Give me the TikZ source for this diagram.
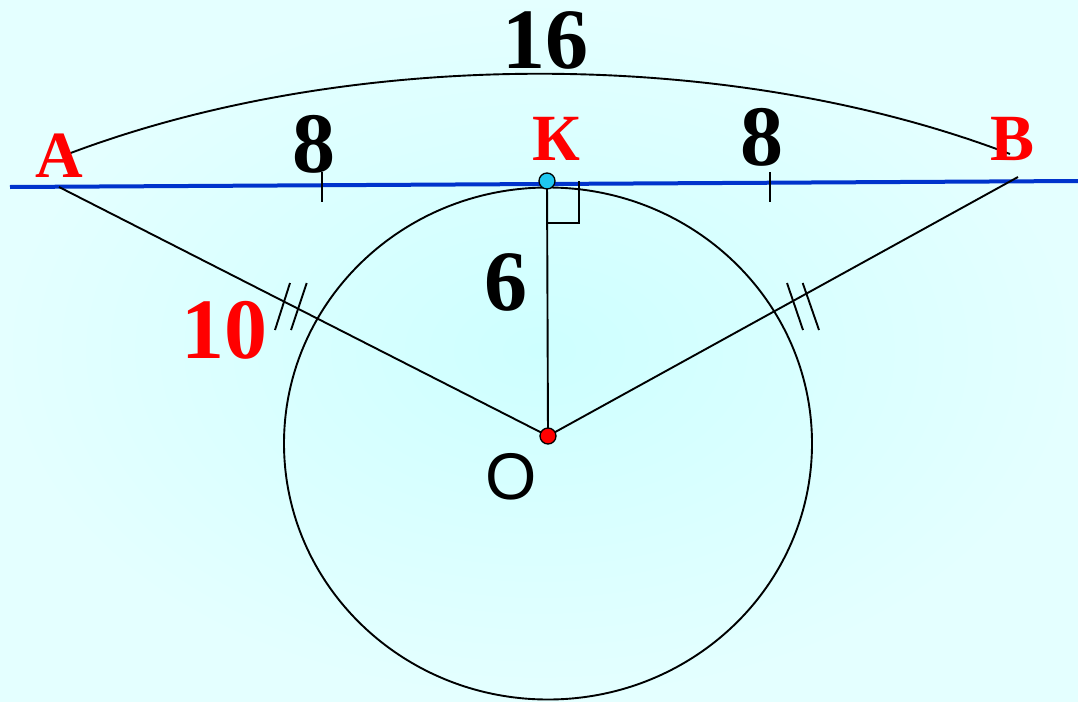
\documentclass[tikz,border=0pt]{standalone}
\usepackage{fontspec}
\setmainfont{Liberation Serif}
\newfontfamily\sansO{Liberation Sans}
\definecolor{bgin}{RGB}{206,255,255}
\definecolor{bgout}{RGB}{228,255,255}
\definecolor{tanblue}{RGB}{0,51,204}
\definecolor{kcyan}{RGB}{30,200,240}
\definecolor{lred}{RGB}{255,0,0}
\tikzset{
  seg/.style={draw=black, line width=1.9pt},
  dotpt/.style={circle, draw=black, line width=1.3pt, minimum size=16pt, inner sep=0pt},
  numlab/.style={anchor=base, inner sep=0pt, font=\fontsize{86}{86}\selectfont\bfseries},
  ptlab/.style={anchor=base, inner sep=0pt, text=lred, font=\fontsize{66}{66}\selectfont\bfseries},
}
\begin{document}
\begin{tikzpicture}[x=1pt,y=-1pt]
\useasboundingbox (0,0) rectangle (1078,701);
\shade[inner color=bgin, outer color=bgout] (0,0) rectangle (1078,701);
% coordinates
\coordinate (Aline) at (59,187);
\coordinate (Atop) at (68,154);
\coordinate (Btop) at (1010,154);
\coordinate (Bline) at (1018,177);
\coordinate (Lstart) at (10,187);
\coordinate (Lend) at (1078,181);
\coordinate (Kfoot) at (547,181);
\coordinate (Oc) at (548,436);
\coordinate (Cc) at (548,443.5);
% circle
\draw[line width=1.9pt] (Cc) ellipse [x radius=264, y radius=256];
% tangent line
\draw[tanblue, line width=4pt] (Lstart) -- (Lend);
% arc 16
\draw[seg] (Atop) .. controls (350,47) and (730,47) .. (Btop);
% segments
\draw[seg] (Aline) -- (Oc);
\draw[seg] (Bline) -- (Oc);
\draw[seg] (Kfoot) -- (Oc);
% right angle
\coordinate (ra1) at (546,223);
\coordinate (ra2) at (579,223);
\coordinate (ra3) at (579,181);
\draw[seg] (ra1) -- (ra2) -- (ra3);
% midpoint ticks
\coordinate (t1a) at (322,172); \coordinate (t1b) at (322,202);
\coordinate (t2a) at (770,172); \coordinate (t2b) at (770,202);
\draw[seg] (t1a) -- (t1b);
\draw[seg] (t2a) -- (t2b);
% equal ticks
\coordinate (a1) at (275,330); \coordinate (a2) at (290,283);
\coordinate (a3) at (291,330); \coordinate (a4) at (306.7,283);
\coordinate (b1) at (787,283); \coordinate (b2) at (803,330);
\coordinate (b3) at (802.7,283); \coordinate (b4) at (819,330);
\draw[seg] (a1) -- (a2);
\draw[seg] (a3) -- (a4);
\draw[seg] (b1) -- (b2);
\draw[seg] (b3) -- (b4);
% points
\node[dotpt, fill=kcyan] (K) at (Kfoot) {};
\node[dotpt, fill=lred] (O) at (Oc) {};
% labels
\node[numlab] (l16) at (545,69) {16};
\node[numlab] (l8a) at (314,172) {8};
\node[numlab] (l8b) at (762,165) {8};
\node[numlab] (l6) at (506,310) {6};
\node[numlab, text=lred] (l10) at (224.5,358) {10};
\node[ptlab] (lA) at (59.5,177) {A};
\node[ptlab] (lK) at (556,160.7) {К};
\node[ptlab] (lB) at (1012.5,160.7) {B};
\node[anchor=base, inner sep=0pt, font=\sansO\fontsize{66}{66}\selectfont] (lO) at (511,499) {O};
\end{tikzpicture}
\end{document}
